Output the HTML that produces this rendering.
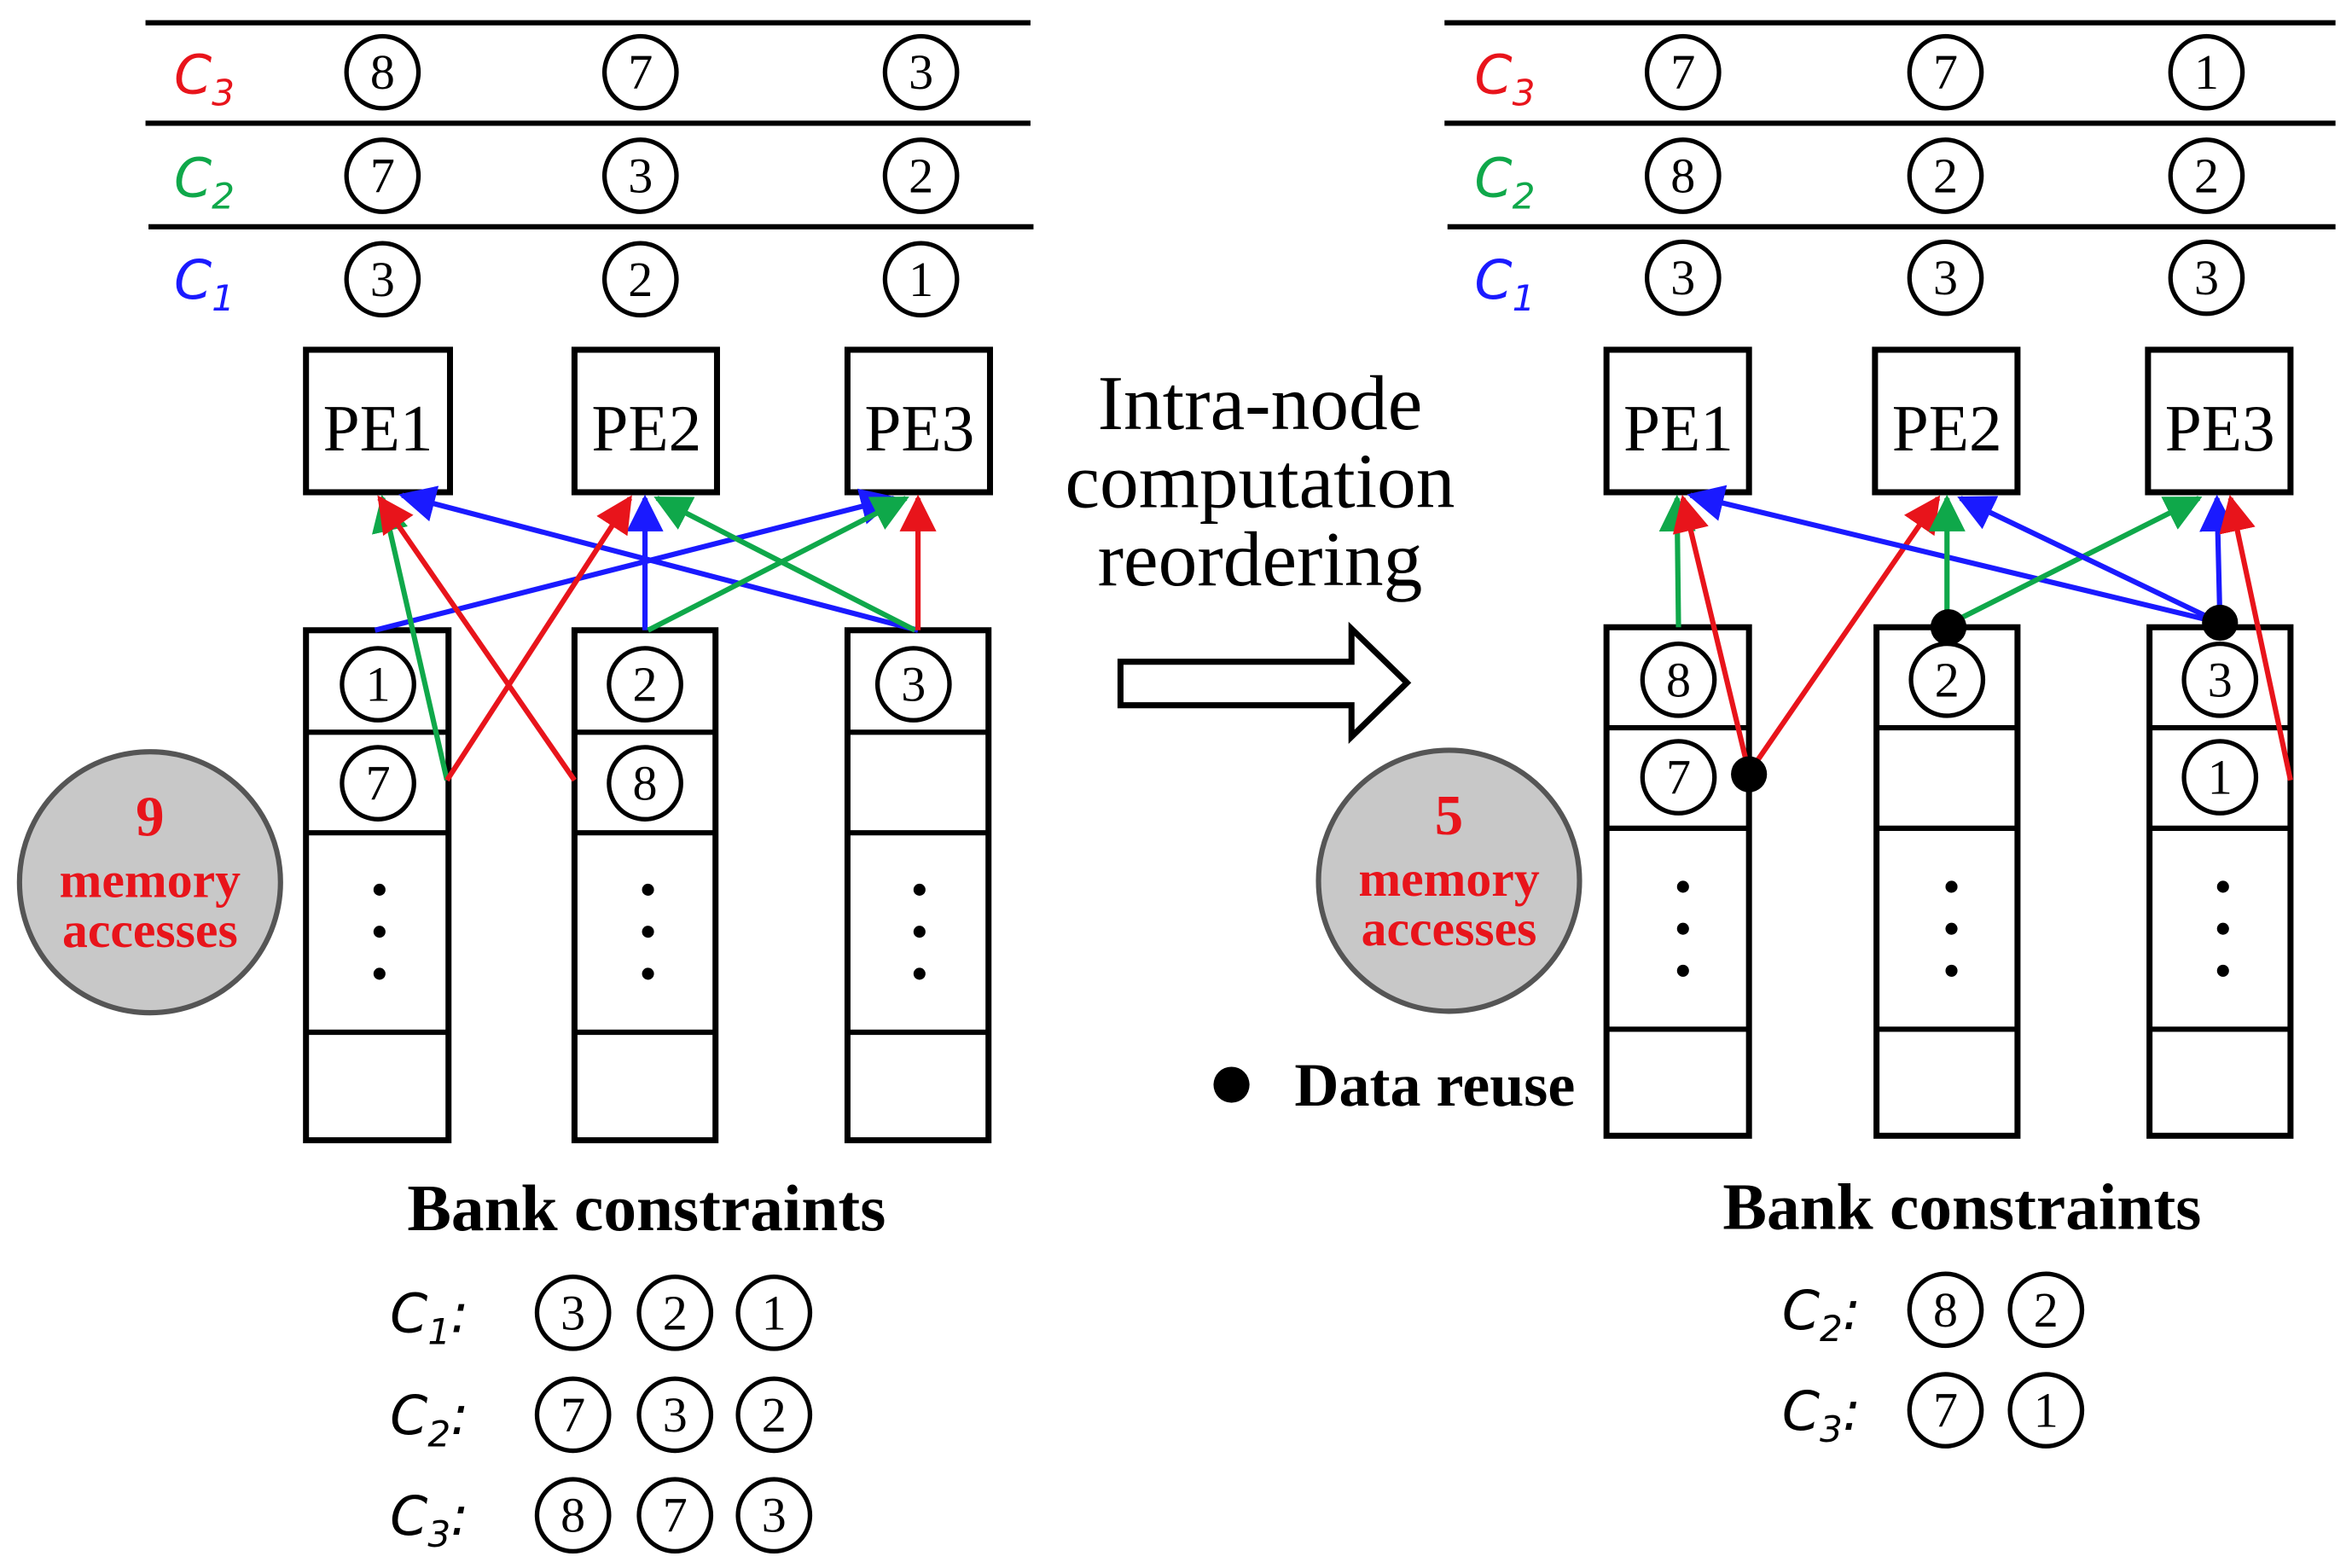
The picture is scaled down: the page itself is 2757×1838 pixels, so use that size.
<!DOCTYPE html>
<html><head><meta charset="utf-8"><style>
html,body{margin:0;padding:0;background:#fff;}
svg{display:block;}
text{font-family:"Liberation Serif",serif;}
</style></head><body>
<svg width="2757" height="1838" viewBox="0 0 1568 1045" xmlns="http://www.w3.org/2000/svg">
<defs>
<marker id="ab" viewBox="0 0 10 10" refX="9" refY="5" markerWidth="7" markerHeight="7" orient="auto"><path d="M0,0L10,5L0,10z" fill="#1a1aff"/></marker>
<marker id="ag" viewBox="0 0 10 10" refX="9" refY="5" markerWidth="7" markerHeight="7" orient="auto"><path d="M0,0L10,5L0,10z" fill="#0fa84a"/></marker>
<marker id="arr" viewBox="0 0 10 10" refX="9" refY="5" markerWidth="7" markerHeight="7" orient="auto"><path d="M0,0L10,5L0,10z" fill="#e8141b"/></marker>
</defs>
<style>
.h{stroke:#000;stroke-width:3.5}
.c{fill:#fff;stroke:#000;stroke-width:3}
.n{font-size:33px;text-anchor:middle;dominant-baseline:central;font-family:"Liberation Serif",serif}
.lab{font-size:36px;font-style:italic;font-family:"DejaVu Sans",sans-serif}
.bx{fill:#fff;stroke:#000;stroke-width:4}
.pe{font-size:44px;text-anchor:middle;font-family:"Liberation Serif",serif}
.r{stroke:#e8141b;stroke-width:3.5;fill:none}
.b{stroke:#1a1aff;stroke-width:3.5;fill:none}
.g{stroke:#0fa84a;stroke-width:3.5;fill:none}
</style>

<line class="h" x1="97" y1="15" x2="687" y2="15"/>
<line class="h" x1="97" y1="82" x2="687" y2="82"/>
<line class="h" x1="99" y1="151" x2="689" y2="151"/>
<text class="lab" x="116" y="62" fill="#e8141b">C<tspan font-size="24" dy="8">3</tspan></text>
<text class="lab" x="116" y="131" fill="#0fa84a">C<tspan font-size="24" dy="8">2</tspan></text>
<text class="lab" x="116" y="199" fill="#1a1aff">C<tspan font-size="24" dy="8">1</tspan></text>
<circle class="c" cx="255" cy="48" r="24"/><text class="n" x="255" y="48">8</text>
<circle class="c" cx="427" cy="48" r="24"/><text class="n" x="427" y="48">7</text>
<circle class="c" cx="614" cy="48" r="24"/><text class="n" x="614" y="48">3</text>
<circle class="c" cx="255" cy="117" r="24"/><text class="n" x="255" y="117">7</text>
<circle class="c" cx="427" cy="117" r="24"/><text class="n" x="427" y="117">3</text>
<circle class="c" cx="614" cy="117" r="24"/><text class="n" x="614" y="117">2</text>
<circle class="c" cx="255" cy="186" r="24"/><text class="n" x="255" y="186">3</text>
<circle class="c" cx="427" cy="186" r="24"/><text class="n" x="427" y="186">2</text>
<circle class="c" cx="614" cy="186" r="24"/><text class="n" x="614" y="186">1</text>
<rect class="bx" x="204" y="233" width="96" height="95"/><text class="pe" x="252" y="300">PE1</text>
<rect class="bx" x="383" y="233" width="95" height="95"/><text class="pe" x="431" y="300">PE2</text>
<rect class="bx" x="565" y="233" width="95" height="95"/><text class="pe" x="613" y="300">PE3</text>
<rect class="bx" x="204" y="420" width="95" height="340"/>
<line class="h" x1="204" y1="488" x2="299" y2="488"/><line class="h" x1="204" y1="555" x2="299" y2="555"/><line class="h" x1="204" y1="688" x2="299" y2="688"/>
<rect class="bx" x="383" y="420" width="94" height="340"/>
<line class="h" x1="383" y1="488" x2="477" y2="488"/><line class="h" x1="383" y1="555" x2="477" y2="555"/><line class="h" x1="383" y1="688" x2="477" y2="688"/>
<rect class="bx" x="565" y="420" width="94" height="340"/>
<line class="h" x1="565" y1="488" x2="659" y2="488"/><line class="h" x1="565" y1="555" x2="659" y2="555"/><line class="h" x1="565" y1="688" x2="659" y2="688"/>
<circle class="c" cx="252" cy="456" r="24"/><text class="n" x="252" y="456">1</text>
<circle class="c" cx="252" cy="522" r="24"/><text class="n" x="252" y="522">7</text>
<circle class="c" cx="430" cy="456" r="24"/><text class="n" x="430" y="456">2</text>
<circle class="c" cx="430" cy="522" r="24"/><text class="n" x="430" y="522">8</text>
<circle class="c" cx="609" cy="456" r="24"/><text class="n" x="609" y="456">3</text>
<g fill="#000"><circle cx="253" cy="593" r="4"/><circle cx="253" cy="621" r="4"/><circle cx="253" cy="649" r="4"/>
<circle cx="432" cy="593" r="4"/><circle cx="432" cy="621" r="4"/><circle cx="432" cy="649" r="4"/>
<circle cx="613" cy="593" r="4"/><circle cx="613" cy="621" r="4"/><circle cx="613" cy="649" r="4"/></g>
<line class="b" x1="250" y1="420" x2="596" y2="332" marker-end="url(#ab)"/>
<line class="b" x1="612" y1="420" x2="268" y2="330" marker-end="url(#ab)"/>
<line class="b" x1="430" y1="420" x2="430" y2="332" marker-end="url(#ab)"/>
<line class="g" x1="298" y1="520" x2="255" y2="332" marker-end="url(#ag)"/>
<line class="g" x1="432" y1="420" x2="604" y2="332" marker-end="url(#ag)"/>
<line class="g" x1="610" y1="420" x2="438" y2="332" marker-end="url(#ag)"/>
<line class="r" x1="298" y1="520" x2="420" y2="332" marker-end="url(#arr)"/>
<line class="r" x1="383" y1="520" x2="253" y2="332" marker-end="url(#arr)"/>
<line class="r" x1="612" y1="420" x2="612" y2="332" marker-end="url(#arr)"/>
<circle cx="100" cy="588" r="87" fill="#c8c8c8" stroke="#555" stroke-width="3.5"/>
<text x="100" y="557" font-size="38" font-weight="bold" fill="#e8141b" text-anchor="middle">9</text>
<text x="100" y="598" font-size="34" font-weight="bold" fill="#e8141b" text-anchor="middle">memory</text>
<text x="100" y="631" font-size="34" font-weight="bold" fill="#e8141b" text-anchor="middle">accesses</text>
<text x="431" y="820" font-size="44" font-weight="bold" text-anchor="middle">Bank constraints</text>
<text class="lab" x="260" y="888">C<tspan font-size="24" dy="8">1</tspan><tspan dy="-8">:</tspan></text>
<text class="lab" x="260" y="956">C<tspan font-size="24" dy="8">2</tspan><tspan dy="-8">:</tspan></text>
<text class="lab" x="260" y="1023">C<tspan font-size="24" dy="8">3</tspan><tspan dy="-8">:</tspan></text>
<circle class="c" cx="382" cy="875" r="24"/><text class="n" x="382" y="875">3</text>
<circle class="c" cx="450" cy="875" r="24"/><text class="n" x="450" y="875">2</text>
<circle class="c" cx="516" cy="875" r="24"/><text class="n" x="516" y="875">1</text>
<circle class="c" cx="382" cy="943" r="24"/><text class="n" x="382" y="943">7</text>
<circle class="c" cx="450" cy="943" r="24"/><text class="n" x="450" y="943">3</text>
<circle class="c" cx="516" cy="943" r="24"/><text class="n" x="516" y="943">2</text>
<circle class="c" cx="382" cy="1010" r="24"/><text class="n" x="382" y="1010">8</text>
<circle class="c" cx="450" cy="1010" r="24"/><text class="n" x="450" y="1010">7</text>
<circle class="c" cx="516" cy="1010" r="24"/><text class="n" x="516" y="1010">3</text>

<text x="840" y="286" font-size="52" text-anchor="middle">Intra-node</text>
<text x="840" y="338" font-size="52" text-anchor="middle">computation</text>
<text x="840" y="390" font-size="52" text-anchor="middle">reordering</text>
<path d="M747,441 L901,441 L901,419 L938,455 L901,491 L901,470 L747,470 Z" fill="#fff" stroke="#000" stroke-width="4"/>

<line class="h" x1="963" y1="15" x2="1557" y2="15"/>
<line class="h" x1="963" y1="82" x2="1557" y2="82"/>
<line class="h" x1="965" y1="151" x2="1557" y2="151"/>
<text class="lab" x="983" y="62" fill="#e8141b">C<tspan font-size="24" dy="8">3</tspan></text>
<text class="lab" x="983" y="131" fill="#0fa84a">C<tspan font-size="24" dy="8">2</tspan></text>
<text class="lab" x="983" y="199" fill="#1a1aff">C<tspan font-size="24" dy="8">1</tspan></text>
<circle class="c" cx="1122" cy="48" r="24"/><text class="n" x="1122" y="48">7</text>
<circle class="c" cx="1297" cy="48" r="24"/><text class="n" x="1297" y="48">7</text>
<circle class="c" cx="1471" cy="48" r="24"/><text class="n" x="1471" y="48">1</text>
<circle class="c" cx="1122" cy="117" r="24"/><text class="n" x="1122" y="117">8</text>
<circle class="c" cx="1297" cy="117" r="24"/><text class="n" x="1297" y="117">2</text>
<circle class="c" cx="1471" cy="117" r="24"/><text class="n" x="1471" y="117">2</text>
<circle class="c" cx="1122" cy="185" r="24"/><text class="n" x="1122" y="185">3</text>
<circle class="c" cx="1297" cy="185" r="24"/><text class="n" x="1297" y="185">3</text>
<circle class="c" cx="1471" cy="185" r="24"/><text class="n" x="1471" y="185">3</text>
<rect class="bx" x="1071" y="233" width="95" height="95"/><text class="pe" x="1119" y="300">PE1</text>
<rect class="bx" x="1250" y="233" width="95" height="95"/><text class="pe" x="1298" y="300">PE2</text>
<rect class="bx" x="1432" y="233" width="95" height="95"/><text class="pe" x="1480" y="300">PE3</text>
<rect class="bx" x="1071" y="418" width="95" height="339"/>
<line class="h" x1="1071" y1="485" x2="1166" y2="485"/><line class="h" x1="1071" y1="552" x2="1166" y2="552"/><line class="h" x1="1071" y1="686" x2="1166" y2="686"/>
<rect class="bx" x="1251" y="418" width="94" height="339"/>
<line class="h" x1="1251" y1="485" x2="1345" y2="485"/><line class="h" x1="1251" y1="552" x2="1345" y2="552"/><line class="h" x1="1251" y1="686" x2="1345" y2="686"/>
<rect class="bx" x="1433" y="418" width="94" height="339"/>
<line class="h" x1="1433" y1="485" x2="1527" y2="485"/><line class="h" x1="1433" y1="552" x2="1527" y2="552"/><line class="h" x1="1433" y1="686" x2="1527" y2="686"/>
<circle class="c" cx="1119" cy="453" r="24"/><text class="n" x="1119" y="453">8</text>
<circle class="c" cx="1119" cy="518" r="24"/><text class="n" x="1119" y="518">7</text>
<circle class="c" cx="1298" cy="453" r="24"/><text class="n" x="1298" y="453">2</text>
<circle class="c" cx="1480" cy="453" r="24"/><text class="n" x="1480" y="453">3</text>
<circle class="c" cx="1480" cy="518" r="24"/><text class="n" x="1480" y="518">1</text>
<g fill="#000"><circle cx="1122" cy="591" r="4"/><circle cx="1122" cy="619" r="4"/><circle cx="1122" cy="647" r="4"/>
<circle cx="1301" cy="591" r="4"/><circle cx="1301" cy="619" r="4"/><circle cx="1301" cy="647" r="4"/>
<circle cx="1482" cy="591" r="4"/><circle cx="1482" cy="619" r="4"/><circle cx="1482" cy="647" r="4"/></g>
<line class="g" x1="1119" y1="418" x2="1118" y2="332" marker-end="url(#ag)"/>
<line class="r" x1="1166" y1="515" x2="1122" y2="332" marker-end="url(#arr)"/>
<line class="r" x1="1166" y1="515" x2="1292" y2="332" marker-end="url(#arr)"/>
<line class="b" x1="1480" y1="415" x2="1127" y2="330" marker-end="url(#ab)"/>
<line class="g" x1="1298" y1="418" x2="1298" y2="332" marker-end="url(#ag)"/>
<line class="g" x1="1299" y1="416" x2="1466" y2="332" marker-end="url(#ag)"/>
<line class="b" x1="1480" y1="415" x2="1307" y2="332" marker-end="url(#ab)"/>
<line class="b" x1="1480" y1="415" x2="1478" y2="332" marker-end="url(#ab)"/>
<line class="r" x1="1527" y1="520" x2="1487" y2="332" marker-end="url(#arr)"/>
<circle cx="1166" cy="516" r="12" fill="#000"/>
<circle cx="1299" cy="418" r="12" fill="#000"/>
<circle cx="1480" cy="415" r="12" fill="#000"/>
<circle cx="966" cy="587" r="87" fill="#c8c8c8" stroke="#555" stroke-width="3.5"/>
<text x="966" y="556" font-size="38" font-weight="bold" fill="#e8141b" text-anchor="middle">5</text>
<text x="966" y="597" font-size="34" font-weight="bold" fill="#e8141b" text-anchor="middle">memory</text>
<text x="966" y="630" font-size="34" font-weight="bold" fill="#e8141b" text-anchor="middle">accesses</text>
<circle cx="821" cy="723" r="12" fill="#000"/>
<text x="863" y="737" font-size="41" font-weight="bold">Data reuse</text>
<text x="1308" y="819" font-size="44" font-weight="bold" text-anchor="middle">Bank constraints</text>
<text class="lab" x="1188" y="886">C<tspan font-size="24" dy="8">2</tspan><tspan dy="-8">:</tspan></text>
<text class="lab" x="1188" y="953">C<tspan font-size="24" dy="8">3</tspan><tspan dy="-8">:</tspan></text>
<circle class="c" cx="1297" cy="873" r="24"/><text class="n" x="1297" y="873">8</text>
<circle class="c" cx="1364" cy="873" r="24"/><text class="n" x="1364" y="873">2</text>
<circle class="c" cx="1297" cy="940" r="24"/><text class="n" x="1297" y="940">7</text>
<circle class="c" cx="1364" cy="940" r="24"/><text class="n" x="1364" y="940">1</text>
</svg>
</body></html>
